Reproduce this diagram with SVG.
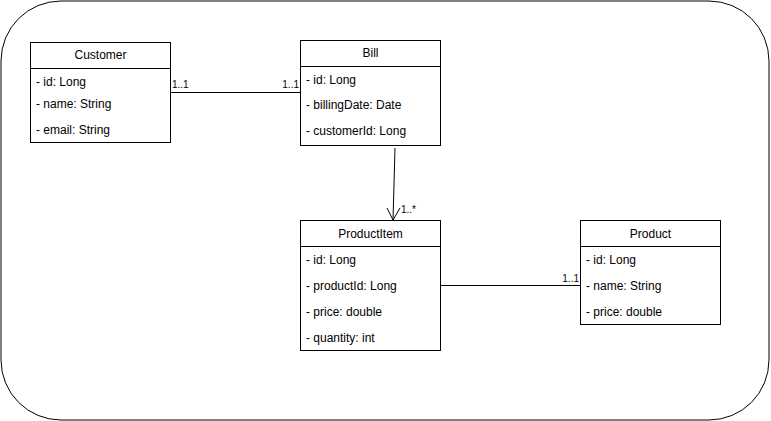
<svg xmlns="http://www.w3.org/2000/svg" width="771" height="421" viewBox="0 0 771 421">
<style>
.box{fill:#fff;stroke:#000;stroke-width:1}
.t{font-family:"Liberation Sans",Arial,sans-serif;font-size:12px;fill:#000}
.h{text-anchor:middle}
.lbl{font-family:"Liberation Sans",Arial,sans-serif;font-size:10px;fill:#000}
.e{fill:none;stroke:#000;stroke-width:1}
</style>
<rect x="1" y="1" width="768" height="419" rx="60" ry="60" fill="#fff" stroke="#000" stroke-width="1"/>
<g id="connectors">
<path class="e" d="M170.5 92.5 H300.5"/>
<text class="lbl" x="172" y="88">1..1</text>
<text class="lbl" x="299" y="88" text-anchor="end">1..1</text>
<path class="e" d="M395 148 L393 220"/>
<path class="e" d="M387 208 L393 220 L400 208"/>
<text class="lbl" x="401" y="213">1..*</text>
<path class="e" d="M440.5 285.5 H580.5"/>
<text class="lbl" x="579" y="282" text-anchor="end">1..1</text>
</g>
<g id="customer">
<rect class="box" x="30.5" y="42.5" width="140" height="100"/>
<path class="e" d="M30.5 68.5 H170.5"/>
<text class="t h" x="100.5" y="59">Customer</text>
<text class="t" x="36" y="86">- id: Long</text>
<text class="t" x="36" y="108">- name: String</text>
<text class="t" x="36" y="134">- email: String</text>
</g>
<g id="bill">
<rect class="box" x="300.5" y="40.5" width="140" height="105"/>
<path class="e" d="M300.5 66.5 H440.5"/>
<text class="t h" x="370.5" y="57">Bill</text>
<text class="t" x="306" y="84">- id: Long</text>
<text class="t" x="306" y="109">- billingDate: Date</text>
<text class="t" x="306" y="135">- customerId: Long</text>
</g>
<g id="productitem">
<rect class="box" x="300.5" y="220.5" width="140" height="130"/>
<path class="e" d="M300.5 246.5 H440.5"/>
<text class="t h" x="370.5" y="238">ProductItem</text>
<text class="t" x="306" y="264">- id: Long</text>
<text class="t" x="306" y="290">- productId: Long</text>
<text class="t" x="306" y="316">- price: double</text>
<text class="t" x="306" y="342">- quantity: int</text>
</g>
<g id="product">
<rect class="box" x="580.5" y="220.5" width="140" height="104"/>
<path class="e" d="M580.5 246.5 H720.5"/>
<text class="t h" x="650.5" y="238">Product</text>
<text class="t" x="586" y="264">- id: Long</text>
<text class="t" x="586" y="290">- name: String</text>
<text class="t" x="586" y="316">- price: double</text>
</g>
</svg>
